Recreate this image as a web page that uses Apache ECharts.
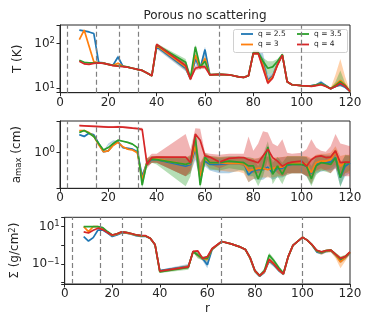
<!DOCTYPE html>
<html>
<head>
<meta charset="utf-8">
<script src="https://cdn.jsdelivr.net/npm/echarts@6/dist/echarts.min.js"></script>
<style>
  html, body { margin: 0; padding: 0; background: #fff; }
  #main { width: 374px; height: 327px; }
</style>
</head>
<body>
<div id="main"></div>
<script>
// radial positions (shared by all three panels)
var rVals = [8, 10, 12, 14, 16, 18, 20, 22,
	24, 26, 28, 30, 32, 34, 36, 38,
	40, 52, 54, 56, 58, 60, 62, 66,
	70, 74, 76, 78, 80, 82, 84, 86,
	88, 90, 92, 94, 96, 100, 102, 104,
	106, 108, 110, 112, 114, 116, 118, 120];

var ringR = [3.2, 15, 24.4, 32.4, 66, 99.8];
var qNames = ['q = 2.5', 'q = 3', 'q = 3.5', 'q = 4'];

// ---- T (K) ----
var tempBlue = [198, 190, 180, 166, 38, 37, 34, 33,
	50, 31, 29.5, 28, 26.5, 25, 22, 19,
	85, 28, 16, 45, 28, 73, 20, 20.5,
	20, 18, 17.5, 19, 62, 62, 38, 15,
	19, 35, 55, 14, 12, 11.5, 11.3, 11.5,
	12, 13.5, 11.5, 9.8, 11, 12, 10.5, 8.5];
var tempBlueLo = [195, 185, 175, 160, 37, 36, 33, 32,
	45, 30, 29, 27.5, 26, 24.5, 21.5, 18.5,
	75, 24, 15, 35, 26, 55, 19.5, 20,
	19.5, 17.5, 17, 18.5, 55, 55, 30, 13,
	17, 32, 52, 13.5, 11.8, 11.3, 11, 11,
	11.5, 12, 11, 9.5, 10.5, 11, 10, 8.3];
var tempBlueHi = [202, 195, 185, 170, 39, 38, 35, 34,
	55, 32, 30, 28.5, 27, 25.5, 22.5, 19.5,
	95, 34, 17, 60, 30, 85, 21, 21,
	20.5, 18.5, 18, 20, 70, 70, 60, 20,
	22, 38, 58, 15, 12.5, 11.8, 11.6, 12,
	12.5, 15, 12, 10.2, 12, 14, 11, 8.7];

var tempOrange = [122, 198, 88, 39, 37, 36.5, 34, 32.5,
	36, 31, 29.5, 28, 26.5, 25, 22, 19,
	90, 30, 16, 55, 28, 46, 20, 20.5,
	20, 18, 17.5, 19, 60, 60, 33, 14,
	18, 34, 55, 14, 12, 11.5, 11.3, 11.2,
	11.8, 12.5, 11.2, 9.8, 12, 15, 12, 8.5];
var tempOrangeLo = [118, 192, 85, 37, 36, 35.5, 33, 31.5,
	34, 30, 29, 27.5, 26, 24.5, 21.5, 18.5,
	80, 25, 15, 45, 26, 38, 19.5, 20,
	19.5, 17.5, 17, 18.5, 55, 55, 28, 12.5,
	16, 31, 52, 13.5, 11.8, 11.3, 11, 11,
	11.5, 12, 11, 9.5, 10.5, 11, 10.5, 8.3];
var tempOrangeHi = [126, 204, 92, 41, 38, 37.5, 35, 33.5,
	38, 32, 30, 28.5, 27, 25.5, 22.5, 19.5,
	100, 36, 17, 65, 30, 55, 21, 21,
	20.5, 18.5, 18, 20, 68, 68, 40, 17,
	21, 37, 58, 15, 12.5, 11.8, 11.6, 11.5,
	12.2, 13.5, 11.5, 10.2, 20, 45, 18, 8.7];

var tempGreen = [42, 38, 37, 37, 37.5, 36, 34, 32.5,
	31.5, 31, 30, 28, 26.5, 25, 22, 19,
	92, 38, 17, 84, 30, 40, 20, 20.5,
	20, 18, 17.5, 19, 62, 62, 40, 28,
	30, 40, 57, 14, 12, 11.5, 11.3, 11.2,
	11.8, 12.5, 11.2, 9.8, 11.5, 14, 11.5, 8.5];
var tempGreenLo = [41, 37, 36, 36, 36.5, 35, 33, 31.5,
	30.5, 30, 29, 27.5, 26, 24.5, 21.5, 18.5,
	85, 30, 16, 60, 28, 32, 19.5, 20,
	19.5, 17.5, 17, 18.5, 56, 56, 30, 20,
	22, 34, 53, 13.5, 11.8, 11.3, 11, 11,
	11.5, 12, 11, 9.5, 10.5, 11.5, 11, 8.3];
var tempGreenHi = [43, 39, 38, 38, 38.5, 37, 35, 33.5,
	32.5, 32, 31, 28.5, 27, 25.5, 22.5, 19.5,
	100, 45, 18, 95, 32, 50, 21, 21,
	20.5, 18.5, 18, 20, 70, 70, 48, 40,
	40, 45, 60, 15, 12.5, 11.8, 11.6, 11.5,
	12.2, 13.5, 11.5, 10.2, 14, 25, 13, 8.7];

var tempRed = [40, 35, 34, 36, 37, 36, 34, 32,
	31, 30.5, 29.5, 28, 26.5, 25, 22, 19,
	95, 32, 16, 28, 30, 30, 20, 20.5,
	20, 18, 17.5, 19, 60, 60, 28, 13,
	17, 33, 55, 14, 12, 11.5, 11.3, 11,
	11.5, 12, 11, 9.8, 11, 13, 11, 8.5];
var tempRedLo = [39, 34, 33, 35, 36, 35, 33, 31,
	30, 29.5, 28.5, 27, 25.5, 24, 21, 18.5,
	88, 27, 15, 25, 27, 27, 19, 20,
	19.5, 17.5, 17, 18.5, 55, 55, 24, 12,
	15.5, 30, 50, 13.5, 11.5, 11.2, 11, 10.7,
	11.2, 11.5, 10.7, 9.5, 10.5, 12, 10.5, 8.3];
var tempRedHi = [41, 36, 35, 37, 38, 37, 35, 33,
	32, 31.5, 30.5, 29, 27.5, 26, 23, 19.5,
	102, 37, 17, 32, 33, 33, 21, 21,
	20.5, 18.5, 18, 19.5, 66, 66, 32, 14,
	18.5, 36, 60, 14.5, 12.5, 11.8, 11.6, 11.3,
	11.8, 12.5, 11.3, 10.1, 11.5, 14, 11.5, 8.7];

// ---- a_max (cm) ----
var amaxBlue = [2.5, 2.3, 2.7, 2.5, 1.6, 1.05, 1.1, 1.5,
	1.75, 1.3, 1.25, 1.2, 1.05, 0.3, 0.6, 0.7,
	0.7, 0.5, 0.55, 1.2, 0.3, 0.65, 0.55, 0.55,
	0.58, 0.58, 0.6, 0.32, 0.4, 0.42, 0.42, 0.48,
	0.35, 0.45, 0.45, 0.52, 0.55, 0.55, 0.5, 0.35,
	0.55, 0.62, 0.62, 0.62, 0.78, 0.28, 0.5, 0.6];
var amaxBlueLo = [2.4, 2.2, 2.6, 2.4, 1.5, 1.0, 1.45, 1.7,
	1.65, 1.25, 1.2, 1.15, 1.0, 0.18, 0.5, 0.6,
	0.6, 0.3, 0.35, 0.7, 0.22, 0.5, 0.4, 0.35,
	0.35, 0.4, 0.4, 0.22, 0.26, 0.25, 0.25, 0.3,
	0.25, 0.28, 0.28, 0.32, 0.35, 0.35, 0.3, 0.2,
	0.35, 0.38, 0.4, 0.4, 0.45, 0.18, 0.3, 0.35];
var amaxBlueHi = [2.65, 2.4, 2.8, 2.6, 1.7, 1.1, 1.6, 1.9,
	1.85, 1.35, 1.3, 1.25, 1.1, 0.35, 0.7, 0.8,
	0.8, 0.75, 0.8, 1.8, 0.6, 0.85, 0.8, 0.75,
	0.8, 0.8, 0.8, 0.7, 0.7, 0.75, 0.8, 0.8,
	0.7, 0.75, 0.8, 0.8, 0.8, 0.8, 0.8, 0.7,
	0.85, 0.9, 0.9, 0.9, 1.1, 0.6, 0.85, 0.9];

var amaxOrange = [3.1, 3.1, 2.8, 2.3, 1.5, 1.05, 1.1, 1.45,
	1.7, 1.35, 1.2, 1.15, 1.0, 0.25, 0.62, 0.72,
	0.72, 0.55, 0.58, 1.4, 0.3, 0.75, 0.6, 0.6,
	0.58, 0.58, 0.58, 0.4, 0.42, 0.45, 0.45, 0.42,
	0.45, 0.48, 0.48, 0.55, 0.58, 0.58, 0.55, 0.36,
	0.6, 0.65, 0.65, 0.7, 1.1, 0.5, 0.62, 0.6];
var amaxOrangeLo = [3.0, 3.0, 2.7, 2.2, 1.45, 1.0, 1.05, 1.4,
	1.65, 1.3, 1.15, 1.1, 0.95, 0.2, 0.5, 0.6,
	0.6, 0.3, 0.35, 0.8, 0.2, 0.55, 0.45, 0.4,
	0.38, 0.38, 0.35, 0.22, 0.26, 0.28, 0.28, 0.28,
	0.28, 0.3, 0.3, 0.32, 0.35, 0.35, 0.32, 0.2,
	0.38, 0.4, 0.42, 0.45, 0.55, 0.28, 0.35, 0.35];
var amaxOrangeHi = [3.2, 3.2, 2.9, 2.4, 1.55, 1.1, 1.15, 1.5,
	1.75, 1.4, 1.25, 1.2, 1.05, 0.3, 0.75, 0.85,
	0.85, 0.8, 0.85, 2.0, 0.6, 0.95, 0.85, 0.8,
	0.8, 0.8, 0.8, 0.75, 0.75, 0.75, 0.9, 0.85,
	0.75, 0.8, 0.8, 0.85, 0.85, 0.85, 0.85, 0.75,
	0.9, 0.95, 0.95, 1.0, 1.4, 0.85, 0.9, 0.9];

var amaxGreen = [2.8, 3.1, 2.7, 2.3, 1.6, 1.15, 1.3, 1.6,
	1.9, 1.8, 1.7, 1.55, 1.3, 0.19, 0.62, 0.72,
	0.7, 0.55, 0.6, 2.3, 0.19, 0.8, 0.6, 0.6,
	0.65, 0.62, 0.6, 0.51, 0.51, 0.26, 0.5, 1.35,
	0.33, 0.51, 0.33, 0.55, 0.55, 0.55, 0.51, 0.26,
	0.51, 0.6, 0.58, 0.55, 0.77, 0.28, 0.6, 0.6];
var amaxGreenLo = [2.7, 3.0, 2.6, 2.2, 1.55, 1.1, 1.25, 1.55,
	1.85, 1.75, 1.65, 1.5, 1.25, 0.16, 0.5, 0.6,
	0.55, 0.18, 0.3, 1.4, 0.16, 0.6, 0.42, 0.4,
	0.45, 0.42, 0.4, 0.3, 0.3, 0.18, 0.3, 0.7,
	0.2, 0.3, 0.2, 0.35, 0.35, 0.35, 0.3, 0.18,
	0.32, 0.4, 0.38, 0.35, 0.5, 0.17, 0.35, 0.4];
var amaxGreenHi = [2.9, 3.2, 2.8, 2.4, 1.65, 1.2, 1.35, 1.65,
	1.95, 1.85, 1.75, 1.6, 1.35, 0.25, 0.75, 0.85,
	0.85, 0.75, 0.9, 2.8, 0.5, 1.0, 0.85, 0.8,
	0.85, 0.85, 0.8, 0.8, 0.75, 0.5, 0.9, 1.8,
	0.6, 0.8, 0.6, 0.85, 0.85, 0.85, 0.8, 0.5,
	0.8, 0.9, 0.85, 0.85, 1.2, 0.5, 0.9, 0.85];

var amaxRed = [4.0, 3.95, 3.9, 3.85, 3.8, 3.75, 3.7, 3.7,
	3.75, 3.7, 3.6, 3.5, 3.45, 3.3, 0.55, 0.78,
	0.8, 0.8, 0.6, 2.6, 1.9, 0.85, 0.8, 0.62,
	0.75, 0.78, 0.78, 0.7, 0.65, 0.6, 0.85, 1.2,
	0.78, 0.65, 0.5, 0.58, 0.62, 0.65, 0.5, 0.7,
	0.82, 0.85, 0.78, 0.8, 1.1, 0.6, 0.62, 0.62];
var amaxRedLo = [3.9, 3.85, 3.8, 3.75, 3.7, 3.65, 3.6, 3.6,
	3.6, 3.55, 3.45, 3.35, 3.2, 3.0, 0.45, 0.6,
	0.6, 0.3, 0.4, 1.5, 0.3, 0.6, 0.55, 0.45,
	0.55, 0.55, 0.5, 0.4, 0.35, 0.35, 0.45, 0.5,
	0.45, 0.35, 0.3, 0.35, 0.35, 0.35, 0.3, 0.3,
	0.4, 0.45, 0.4, 0.35, 0.45, 0.3, 0.3, 0.3];
var amaxRedHi = [4.2, 4.15, 4.1, 4.05, 4.0, 3.95, 3.9, 3.9,
	3.95, 3.9, 3.8, 3.7, 3.65, 3.6, 0.75, 0.95,
	0.95, 2.6, 1.2, 3.5, 3.4, 1.0, 0.95, 0.9,
	0.95, 0.95, 0.95, 2.3, 1.1, 1.6, 3.0, 2.8,
	1.6, 1.4, 2.0, 1.0, 0.95, 1.0, 1.2, 2.0,
	1.3, 1.1, 1.05, 1.4, 2.6, 1.6, 1.5, 1.4];

// ---- Sigma (g/cm^2) ----
var sigBlue = [2.9, 1.7, 2.6, 6.6, 6.6, 4.5, 3.0, 3.6,
	4.6, 4.5, 4.0, 3.3, 3.0, 3.1, 2.3, 1.05,
	0.045, 0.075, 0.45, 0.3, 0.2, 0.09, 0.6, 1.6,
	1.2, 0.8, 0.6, 0.2, 0.04, 0.022, 0.036, 0.15,
	0.09, 0.045, 0.028, 0.24, 1.0, 2.7, 1.9, 1.05,
	0.45, 0.38, 0.48, 0.5, 0.3, 0.16, 0.22, 0.38];
var sigBlueLo = [2.8, 1.65, 2.5, 6.4, 6.4, 4.3, 2.9, 3.5,
	4.4, 4.3, 3.8, 3.1, 2.8, 2.9, 2.2, 1.0,
	0.04, 0.06, 0.4, 0.25, 0.15, 0.06, 0.55, 1.5,
	1.1, 0.72, 0.52, 0.16, 0.035, 0.02, 0.03, 0.11,
	0.07, 0.038, 0.024, 0.2, 0.9, 2.55, 1.75, 0.95,
	0.38, 0.32, 0.42, 0.44, 0.24, 0.11, 0.17, 0.32];
var sigBlueHi = [3.0, 1.75, 2.7, 6.8, 6.8, 4.7, 3.1, 3.7,
	4.8, 4.7, 4.2, 3.5, 3.2, 3.3, 2.4, 1.1,
	0.05, 0.1, 0.5, 0.4, 0.25, 0.14, 0.66, 1.7,
	1.3, 0.88, 0.68, 0.26, 0.048, 0.026, 0.045, 0.2,
	0.12, 0.055, 0.034, 0.3, 1.1, 2.85, 2.05, 1.15,
	0.52, 0.45, 0.55, 0.57, 0.36, 0.22, 0.28, 0.45];

var sigOrange = [10, 5.4, 10, 10, 8, 5, 3.4, 4.0,
	5.0, 4.7, 4.1, 3.5, 3.2, 3.2, 2.35, 1.08,
	0.04, 0.07, 0.45, 0.3, 0.2, 0.18, 0.62, 1.6,
	1.2, 0.8, 0.6, 0.2, 0.042, 0.023, 0.038, 0.16,
	0.1, 0.048, 0.029, 0.24, 1.0, 2.7, 1.9, 1.05,
	0.5, 0.4, 0.5, 0.52, 0.3, 0.13, 0.22, 0.4];
var sigOrangeLo = [9.6, 5.2, 9.6, 9.6, 7.7, 4.8, 3.3, 3.9,
	4.8, 4.5, 3.9, 3.3, 3.0, 3.0, 2.25, 1.03,
	0.035, 0.055, 0.4, 0.22, 0.16, 0.13, 0.57, 1.5,
	1.1, 0.72, 0.52, 0.16, 0.036, 0.02, 0.032, 0.12,
	0.075, 0.04, 0.025, 0.2, 0.9, 2.55, 1.75, 0.95,
	0.4, 0.3, 0.42, 0.42, 0.2, 0.06, 0.14, 0.32];
var sigOrangeHi = [10.4, 5.6, 10.4, 10.4, 8.3, 5.2, 3.5, 4.1,
	5.2, 4.9, 4.3, 3.7, 3.4, 3.4, 2.45, 1.13,
	0.046, 0.09, 0.5, 0.42, 0.25, 0.24, 0.68, 1.7,
	1.3, 0.88, 0.68, 0.26, 0.05, 0.027, 0.046, 0.22,
	0.13, 0.058, 0.035, 0.3, 1.1, 2.85, 2.05, 1.15,
	0.6, 0.5, 0.6, 0.62, 0.4, 0.25, 0.3, 0.5];

var sigGreen = [10, 10, 10, 10, 9, 5.5, 3.6, 4.2,
	5.3, 5.0, 4.3, 3.6, 3.3, 3.2, 2.4, 1.1,
	0.038, 0.065, 0.47, 0.3, 0.2, 0.2, 0.65, 1.6,
	1.2, 0.8, 0.6, 0.22, 0.045, 0.024, 0.045, 0.3,
	0.15, 0.065, 0.032, 0.25, 1.0, 2.7, 1.9, 1.08,
	0.52, 0.42, 0.52, 0.55, 0.33, 0.18, 0.25, 0.42];
var sigGreenLo = [9.6, 9.6, 9.6, 9.6, 8.6, 5.3, 3.5, 4.1,
	5.1, 4.8, 4.1, 3.4, 3.1, 3.0, 2.3, 1.05,
	0.033, 0.05, 0.42, 0.2, 0.16, 0.15, 0.6, 1.5,
	1.1, 0.72, 0.52, 0.17, 0.038, 0.021, 0.035, 0.2,
	0.1, 0.05, 0.027, 0.21, 0.9, 2.55, 1.75, 0.97,
	0.44, 0.35, 0.45, 0.47, 0.26, 0.12, 0.2, 0.35];
var sigGreenHi = [10.4, 10.4, 10.4, 10.4, 9.4, 5.7, 3.7, 4.3,
	5.5, 5.2, 4.5, 3.8, 3.5, 3.4, 2.5, 1.15,
	0.045, 0.085, 0.52, 0.45, 0.26, 0.26, 0.7, 1.7,
	1.3, 0.88, 0.68, 0.28, 0.055, 0.028, 0.06, 0.4,
	0.2, 0.08, 0.038, 0.3, 1.1, 2.85, 2.05, 1.2,
	0.6, 0.5, 0.6, 0.63, 0.4, 0.25, 0.3, 0.5];

var sigRed = [5.3, 4.6, 6.4, 8.3, 7.0, 4.8, 3.6, 4.2,
	5.3, 4.9, 4.3, 3.7, 3.4, 3.3, 2.4, 1.1,
	0.042, 0.07, 0.47, 0.5, 0.2, 0.25, 0.68, 1.6,
	1.2, 0.8, 0.6, 0.22, 0.045, 0.024, 0.04, 0.18,
	0.1, 0.05, 0.03, 0.25, 1.0, 2.7, 1.9, 1.1,
	0.55, 0.45, 0.53, 0.55, 0.33, 0.2, 0.25, 0.45];
var sigRedLo = [5.1, 4.4, 6.2, 8.0, 6.7, 4.6, 3.45, 4.0,
	5.1, 4.7, 4.1, 3.55, 3.25, 3.15, 2.3, 1.05,
	0.038, 0.06, 0.44, 0.45, 0.18, 0.22, 0.64, 1.52,
	1.14, 0.76, 0.56, 0.2, 0.041, 0.022, 0.036, 0.16,
	0.09, 0.045, 0.027, 0.23, 0.95, 2.6, 1.8, 1.04,
	0.5, 0.41, 0.49, 0.5, 0.3, 0.18, 0.23, 0.41];
var sigRedHi = [5.5, 4.8, 6.6, 8.6, 7.3, 5.0, 3.75, 4.4,
	5.5, 5.1, 4.5, 3.85, 3.55, 3.45, 2.5, 1.15,
	0.046, 0.08, 0.5, 0.55, 0.22, 0.28, 0.72, 1.68,
	1.26, 0.84, 0.64, 0.24, 0.05, 0.026, 0.044, 0.2,
	0.11, 0.055, 0.033, 0.27, 1.05, 2.8, 2.0, 1.16,
	0.6, 0.49, 0.57, 0.6, 0.36, 0.22, 0.27, 0.49];

var LINE_COLORS = ['#1f77b4', '#ff7f0e', '#2ca02c', '#d62728'];
var BAND_COLORS = ['rgba(31,119,180,0.35)', 'rgba(255,127,14,0.35)', 'rgba(44,160,44,0.35)', 'rgba(214,39,40,0.35)'];
var INK = '#262626';
var FONT = 'DejaVu Sans';

function makeLogLabel(showExp) {
	return function (v) {
		var lg = Math.log10(v);
		var e = Math.round(lg);
		if (Math.abs(lg - e) > 1e-6) return '';
		if (showExp.indexOf(e) < 0) return '';
		return '{b|10}{e|' + (e < 0 ? '\u2212' + (-e) : e) + '}';
	};
}

var labelRich = {
	b: { fontSize: 12, color: INK, fontFamily: FONT },
	e: { fontSize: 8.5, color: INK, fontFamily: FONT, verticalAlign: 'top', padding: [0, 0, 5, 0] }
};

function bandSeries(idx, lo, hi, color) {
	return {
		type: 'custom',
		xAxisIndex: idx,
		yAxisIndex: idx,
		silent: true,
		z: 2,
		data: rVals.map(function (r, i) { return [r, lo[i], hi[i]]; }),
		encode: { x: 0, y: [1, 2] },
		renderItem: function (params, api) {
			if (params.dataIndex !== 0) return null;
			var pts = [];
			for (var i = 0; i < rVals.length; i++) pts.push(api.coord([rVals[i], lo[i]]));
			for (var j = rVals.length - 1; j >= 0; j--) pts.push(api.coord([rVals[j], hi[j]]));
			return {
				type: 'polygon',
				shape: { points: pts },
				style: { fill: color, stroke: null }
			};
		}
	};
}

function panelSeries(idx, lines, los, his) {
	var out = [];
	for (var k = 0; k < 4; k++) {
		out.push(bandSeries(idx, los[k], his[k], BAND_COLORS[k]));
		var s = {
			name: qNames[k],
			type: 'line',
			xAxisIndex: idx,
			yAxisIndex: idx,
			symbol: 'none',
			z: 3,
			color: LINE_COLORS[k],
			lineStyle: { width: 1.7, color: LINE_COLORS[k] },
			data: rVals.map(function (r, i) { return [r, lines[k][i]]; })
		};
		if (k === 0) {
			s.markLine = {
				silent: true,
				symbol: 'none',
				label: { show: false },
				lineStyle: { color: '#808080', type: [5, 3], width: 1.2 },
				data: ringR.map(function (v) { return { xAxis: v }; })
			};
		}
		out.push(s);
	}
	return out;
}

var grids = [
	{ left: 60, width: 290, top: 25, height: 67.7 },
	{ left: 60, width: 290, top: 121, height: 67.3 },
	{ left: 60, width: 290, top: 217.3, height: 66.7 }
];
grids.forEach(function (g) {
	g.show = true;
	g.borderColor = INK;
	g.borderWidth = 1;
});

function xAxisFor(idx) {
	var ax = {
		type: 'value',
		gridIndex: idx,
		min: 0,
		max: 120,
		interval: 20,
		axisLine: { show: true, lineStyle: { color: INK } },
		axisTick: { show: true, length: 3.5, lineStyle: { color: INK } },
		axisLabel: { fontSize: 12, color: INK, fontFamily: FONT, margin: 4 },
		splitLine: { show: false }
	};
	if (idx === 2) {
		ax.name = 'r';
		ax.nameLocation = 'middle';
		ax.nameGap = 19;
		ax.nameTextStyle = { fontSize: 12, color: INK, fontFamily: FONT };
	}
	return ax;
}

function yAxisFor(idx, min, max, showExp, name, rich) {
	return {
		type: 'log',
		logBase: 10,
		gridIndex: idx,
		min: min,
		max: max,
		axisLine: { show: true, lineStyle: { color: INK } },
		axisTick: { show: true, length: 3.5, lineStyle: { color: INK } },
		axisLabel: { formatter: makeLogLabel(showExp), margin: 5, rich: labelRich },
		splitLine: { show: false },
		name: name,
		nameLocation: 'middle',
		nameGap: 27,
		nameTextStyle: { fontSize: 12, color: INK, fontFamily: FONT, rich: rich }
	};
}

var nameRich = {
	n: { fontSize: 12, color: INK, fontFamily: FONT },
	sub: { fontSize: 8.5, color: INK, fontFamily: FONT, verticalAlign: 'bottom', padding: [4, 0, 0, 0] },
	sup: { fontSize: 8.5, color: INK, fontFamily: FONT, verticalAlign: 'top', padding: [0, 0, 5, 0] }
};

var series = []
	.concat(panelSeries(0, [tempBlue, tempOrange, tempGreen, tempRed],
		[tempBlueLo, tempOrangeLo, tempGreenLo, tempRedLo],
		[tempBlueHi, tempOrangeHi, tempGreenHi, tempRedHi]))
	.concat(panelSeries(1, [amaxBlue, amaxOrange, amaxGreen, amaxRed],
		[amaxBlueLo, amaxOrangeLo, amaxGreenLo, amaxRedLo],
		[amaxBlueHi, amaxOrangeHi, amaxGreenHi, amaxRedHi]))
	.concat(panelSeries(2, [sigBlue, sigOrange, sigGreen, sigRed],
		[sigBlueLo, sigOrangeLo, sigGreenLo, sigRedLo],
		[sigBlueHi, sigOrangeHi, sigGreenHi, sigRedHi]));

var legendBase = {
	orient: 'vertical',
	top: 29.5,
	padding: 0,
	icon: 'rect',
	itemWidth: 12,
	itemHeight: 1.8,
	itemGap: 1.5,
	textStyle: { fontSize: 7.5, color: INK, fontFamily: FONT, lineHeight: 9 }
};

var myChart = echarts.init(document.getElementById('main'), null, { renderer: 'canvas' });
myChart.setOption({
	animation: false,
	backgroundColor: '#ffffff',
	textStyle: { fontFamily: FONT },
	graphic: [{
		type: 'text',
		x: 205,
		y: 10,
		z: 5,
		style: {
			text: 'Porous no scattering',
			textAlign: 'center',
			textVerticalAlign: 'top',
			fontSize: 12,
			fontFamily: FONT,
			fill: INK
		}
	}, {
		type: 'rect',
		left: 233,
		top: 29,
		z: 3,
		shape: { width: 114, height: 23, r: 2 },
		style: { fill: 'rgba(255,255,255,0.8)', stroke: '#d0d0d0', lineWidth: 1 }
	}],
	legend: [
		Object.assign({}, legendBase, { left: 241, data: ['q = 2.5', 'q = 3'] }),
		Object.assign({}, legendBase, { left: 297, data: ['q = 3.5', 'q = 4'] })
	],
	grid: grids,
	xAxis: [xAxisFor(0), xAxisFor(1), xAxisFor(2)],
	yAxis: [
		yAxisFor(0, 7.98, 257, [1, 2], 'T (K)', nameRich),
		yAxisFor(1, 0.162, 5.06, [0], '{n|a}{sub|max}{n| (cm)}', nameRich),
		yAxisFor(2, 0.0085, 31.8, [1, -1], '{n|\u03A3 (g/cm}{sup|2}{n|)}', nameRich)
	],
	series: series
});
</script>
</body>
</html>
